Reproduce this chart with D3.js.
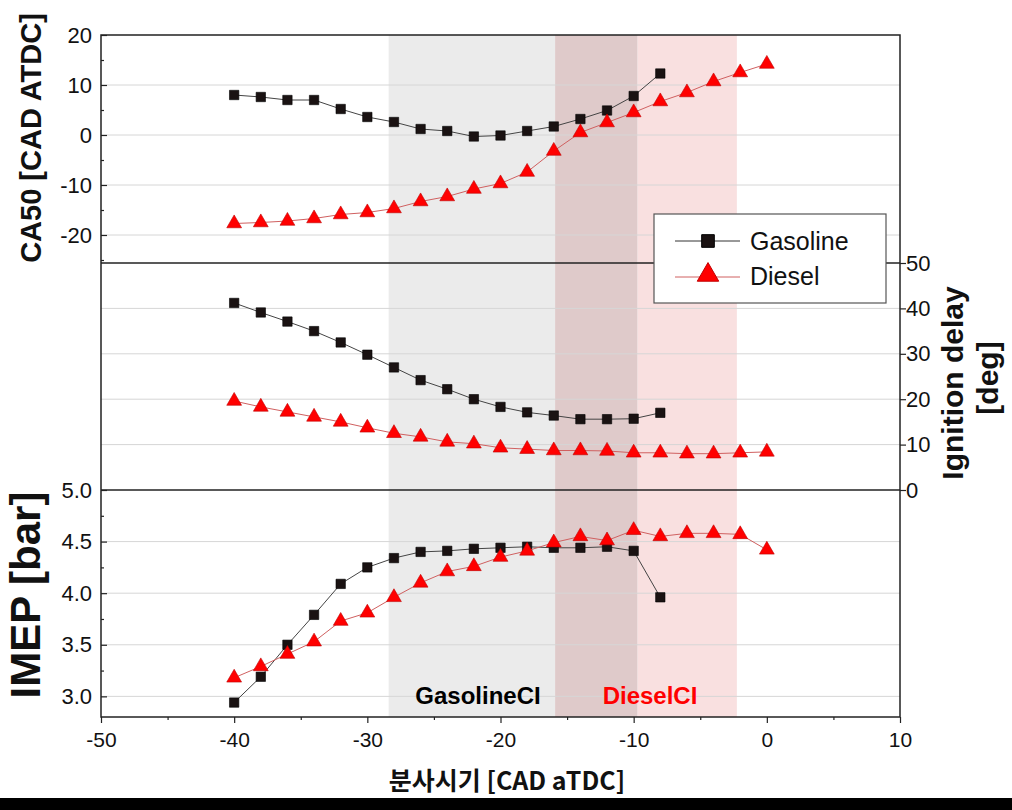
<!DOCTYPE html>
<html><head><meta charset="utf-8">
<script src="https://cdn.jsdelivr.net/npm/d3@7"></script>
<style>body{margin:0;background:#fff}svg{display:block}</style>
</head><body>
<script>
// ---- data ----
const gasolineX = [-40,-38,-36,-34,-32,-30,-28,-26,-24,-22,-20,-18,-16,-14,-12,-10,-8];
const dieselX = [-40,-38,-36,-34,-32,-30,-28,-26,-24,-22,-20,-18,-16,-14,-12,-10,-8,-6,-4,-2,0];
const gasolineCA50 = [8.0,7.6,7.0,7.0,5.2,3.6,2.6,1.2,0.8,-0.3,-0.1,0.8,1.7,3.2,4.9,7.8,12.3];
const dieselCA50 = [-17.7,-17.5,-17.2,-16.7,-15.9,-15.5,-14.7,-13.3,-12.3,-10.8,-9.7,-7.4,-3.2,0.5,2.5,4.5,6.7,8.5,10.7,12.5,14.2];
const gasolineIgn = [41.2,39.1,37.1,35.0,32.5,29.8,27.0,24.2,22.2,20.0,18.3,17.1,16.4,15.6,15.6,15.7,17.0];
const dieselIgn = [19.6,18.3,17.2,16.1,15.0,13.7,12.5,11.7,10.6,10.2,9.3,9.0,8.7,8.7,8.6,8.2,8.2,8.0,8.0,8.2,8.4];
const gasolineIMEP = [2.94,3.19,3.50,3.79,4.09,4.25,4.34,4.40,4.41,4.43,4.44,4.45,4.44,4.44,4.45,4.41,3.96];
const dieselIMEP = [3.18,3.29,3.41,3.53,3.73,3.81,3.96,4.10,4.21,4.26,4.35,4.41,4.49,4.55,4.51,4.61,4.55,4.58,4.58,4.57,4.42];
const xTicks = [-50,-40,-30,-20,-10,0,10];
const ca50Ticks = [-20,-10,0,10,20];
const ignTicks = [0,10,20,30,40,50];
const imepTicks = [3.0,3.5,4.0,4.5,5.0];
const regionNames = ["GasolineCI","DieselCI"];
const gasolineRegion = [-28.4,-9.7];
const dieselRegion = [-15.9,-2.25];

const W=1012,H=810;
const svg=d3.select("body").append("svg").attr("width",W).attr("height",H);
const FONT="'Liberation Sans', Arial, sans-serif";
const NARROW="'Liberation Sans Narrow', 'Arial Narrow', 'Liberation Sans', sans-serif";

const x=d3.scaleLinear().domain([-50,10]).range([101,900]);
const yTop=d3.scaleLinear().domain([-25.6,20]).range([263,35]);
const yMid=d3.scaleLinear().domain([0,50]).range([490,263]);
const yBot=d3.scaleLinear().domain([2.8,5.0]).range([717,490]);
const pTop=35,pBottom=717,pLeft=101,pRight=900;

// shaded regions
svg.append("rect").attr("x",x(gasolineRegion[0])).attr("y",pTop).attr("width",x(dieselRegion[0])-x(gasolineRegion[0])).attr("height",pBottom-pTop).attr("fill","#ebebeb");
svg.append("rect").attr("x",x(dieselRegion[0])).attr("y",pTop).attr("width",x(gasolineRegion[1])-x(dieselRegion[0])).attr("height",pBottom-pTop).attr("fill","#dfcaca");
svg.append("rect").attr("x",x(gasolineRegion[1])).attr("y",pTop).attr("width",x(dieselRegion[1])-x(gasolineRegion[1])).attr("height",pBottom-pTop).attr("fill","#f9e0e0");

// gridlines
function grid(scale,ticks){
  svg.append("g").selectAll("line").data(ticks).join("line")
    .attr("x1",pLeft).attr("x2",pRight).attr("y1",d=>scale(d)).attr("y2",d=>scale(d))
    .attr("stroke","#d6d6d6").attr("stroke-width",1);
}
grid(yTop,[-20,-10,0,10]);
grid(yMid,[10,20,30,40]);
grid(yBot,[3.0,3.5,4.0,4.5]);

// frame & panel separators
const frame=svg.append("g").attr("stroke","#222").attr("fill","none").attr("stroke-width",1.5);
frame.append("rect").attr("x",pLeft).attr("y",pTop).attr("width",pRight-pLeft).attr("height",pBottom-pTop);
frame.append("line").attr("x1",pLeft).attr("x2",pRight).attr("y1",yMid(50)).attr("y2",yMid(50));
frame.append("line").attr("x1",pLeft).attr("x2",pRight).attr("y1",yBot(5.0)).attr("y2",yBot(5.0));

// axes
function styleAxis(g,fs,fam){
  g.select(".domain").remove();
  g.selectAll(".tick line").attr("stroke","#222").attr("stroke-width",1.2);
  g.selectAll(".tick text").attr("font-family",fam||FONT).attr("font-size",fs).attr("fill","#111");
}
const intFmt=d=>String(d);
let g=svg.append("g").attr("transform",`translate(${pLeft},0)`)
  .call(d3.axisRight(yTop).tickValues(ca50Ticks).tickSize(6).tickFormat(intFmt));
styleAxis(g,22); g.selectAll(".tick text").attr("x",-9).attr("text-anchor","end");
svg.append("g").attr("transform",`translate(${pLeft},0)`)
  .call(d3.axisRight(yTop).tickValues([-25,-15,-5,5,15]).tickSize(3).tickFormat(""))
  .call(a=>styleAxis(a,0));
g=svg.append("g").attr("transform",`translate(${pLeft},0)`)
  .call(d3.axisRight(yBot).tickValues(imepTicks).tickSize(6).tickFormat(d=>d.toFixed(1)));
styleAxis(g,22); g.selectAll(".tick text").attr("x",-9).attr("text-anchor","end");
svg.append("g").attr("transform",`translate(${pLeft},0)`)
  .call(d3.axisRight(yBot).tickValues([3.25,3.75,4.25,4.75]).tickSize(3).tickFormat(""))
  .call(a=>styleAxis(a,0));
g=svg.append("g").attr("transform",`translate(${pRight},0)`)
  .call(d3.axisRight(yMid).tickValues(ignTicks).tickSize(6).tickFormat(intFmt));
styleAxis(g,22); g.selectAll(".tick text").attr("x",6);
g=svg.append("g").attr("transform",`translate(0,${pBottom})`)
  .call(d3.axisBottom(x).tickValues(xTicks).tickSize(6).tickFormat(intFmt));
styleAxis(g,21,NARROW); g.selectAll(".tick text").attr("y",15);
svg.append("g").attr("transform",`translate(0,${pBottom})`)
  .call(d3.axisBottom(x).tickValues([-45,-35,-25,-15,-5,5]).tickSize(3).tickFormat(""))
  .call(a=>styleAxis(a,0));

// series
function series(xs,ys,scale,lineColor,type){
  const pts=xs.map((d,i)=>[x(d),scale(ys[i])]);
  svg.append("path").attr("d",d3.line()(pts)).attr("fill","none").attr("stroke",lineColor).attr("stroke-width",1);
  svg.append("g").selectAll("path").data(pts).join("path")
    .attr("transform",d=>`translate(${d[0]},${d[1]})`)
    .attr("d",type==="sq"?d3.symbol(d3.symbolSquare,88)():d3.symbol(d3.symbolTriangle,95)())
    .attr("fill",type==="sq"?"#1a1212":"#ff0000")
    .attr("stroke",type==="sq"?"#000":"#c00000").attr("stroke-width",0.6);
}
series(gasolineX,gasolineCA50,yTop,"#444","sq");
series(dieselX,dieselCA50,yTop,"#d06060","tri");
series(gasolineX,gasolineIgn,yMid,"#444","sq");
series(dieselX,dieselIgn,yMid,"#d06060","tri");
series(gasolineX,gasolineIMEP,yBot,"#444","sq");
series(dieselX,dieselIMEP,yBot,"#d06060","tri");

// region labels
svg.append("text").attr("x",478).attr("y",704).attr("text-anchor","middle").attr("font-family",FONT)
  .attr("font-weight","bold").attr("font-size",24).attr("fill","#000").text(regionNames[0]);
svg.append("text").attr("x",650).attr("y",704).attr("text-anchor","middle").attr("font-family",FONT)
  .attr("font-weight","bold").attr("font-size",24).attr("fill","#ff0000").text(regionNames[1]);

// legend
const lg=svg.append("g");
lg.append("rect").attr("x",654).attr("y",214).attr("width",232).attr("height",89).attr("fill","#fff").attr("stroke","#555").attr("stroke-width",1.2);
lg.append("line").attr("x1",675).attr("x2",740).attr("y1",241).attr("y2",241).attr("stroke","#333");
lg.append("path").attr("transform","translate(708,241)").attr("d",d3.symbol(d3.symbolSquare,160)()).attr("fill","#1a1212").attr("stroke","#000");
lg.append("text").attr("x",750).attr("y",250).attr("font-family",FONT).attr("font-size",25).attr("fill","#111").text("Gasoline");
lg.append("line").attr("x1",675).attr("x2",740).attr("y1",277).attr("y2",277).attr("stroke","#d06060");
lg.append("path").attr("transform","translate(708,275)").attr("d",d3.symbol(d3.symbolTriangle,200)()).attr("fill","#ff0000").attr("stroke","#c00000");
lg.append("text").attr("x",750).attr("y",285).attr("font-family",FONT).attr("font-size",25).attr("fill","#111").text("Diesel");

// axis titles
function vtext(cx,cy,txt,fs){
  svg.append("text").attr("transform",`translate(${cx},${cy}) rotate(-90)`).attr("text-anchor","middle")
    .attr("dominant-baseline","central").attr("font-family",FONT).attr("font-weight","bold")
    .attr("font-size",fs).attr("fill","#111").text(txt);
}
vtext(31,138,"CA50 [CAD ATDC]",29);
vtext(25,595,"IMEP [bar]",42);
vtext(952,383,"Ignition delay",30);
vtext(987,378,"[deg]",30);

svg.append("text").attr("x",507).attr("y",790).attr("text-anchor","middle")
  .attr("font-family","'Noto Sans CJK KR', sans-serif").attr("font-weight","bold").attr("font-size",25)
  .attr("fill","#111").text("분사시기 [CAD aTDC]");

// bottom black bar
svg.append("rect").attr("x",0).attr("y",798).attr("width",W).attr("height",H-798).attr("fill","#000");
</script>
</body></html>
